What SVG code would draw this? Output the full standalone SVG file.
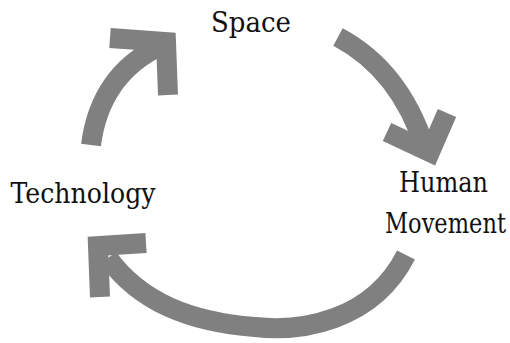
<svg xmlns="http://www.w3.org/2000/svg" width="510" height="343" viewBox="0 0 510 343">
<style>
.lbl{font-family:"DejaVu Serif","Liberation Serif",serif;font-size:27px;fill:#111;text-anchor:middle}
.arr{fill:none;stroke:#808080;stroke-width:20;stroke-linejoin:miter;stroke-miterlimit:10}
</style>
<rect width="510" height="343" fill="#fff"/>
<g id="connectors">
<path class="arr" d="M91 145 Q100 75 160 46"/>
<path class="arr" d="M110 38 L166 42 L168 95"/>
<path class="arr" d="M338 37 Q400 70 425 148"/>
<path class="arr" d="M387 132 L430 152 L447 113"/>
<path class="arr" d="M406 255 C372 322 300 332 255 327 C190 322 140 302 108 258"/>
<path class="arr" d="M100 297 L98 246 L146 243"/>
</g>
<g id="space"><text class="lbl" x="251" y="32" textLength="80" lengthAdjust="spacingAndGlyphs">Space</text></g>
<g id="technology"><text class="lbl" x="83" y="203" textLength="145" lengthAdjust="spacingAndGlyphs">Technology</text></g>
<g id="human-movement"><text class="lbl" x="443.5" y="192" textLength="89" lengthAdjust="spacingAndGlyphs">Human</text><text class="lbl" x="445.5" y="233" textLength="121" lengthAdjust="spacingAndGlyphs">Movement</text></g>
</svg>
